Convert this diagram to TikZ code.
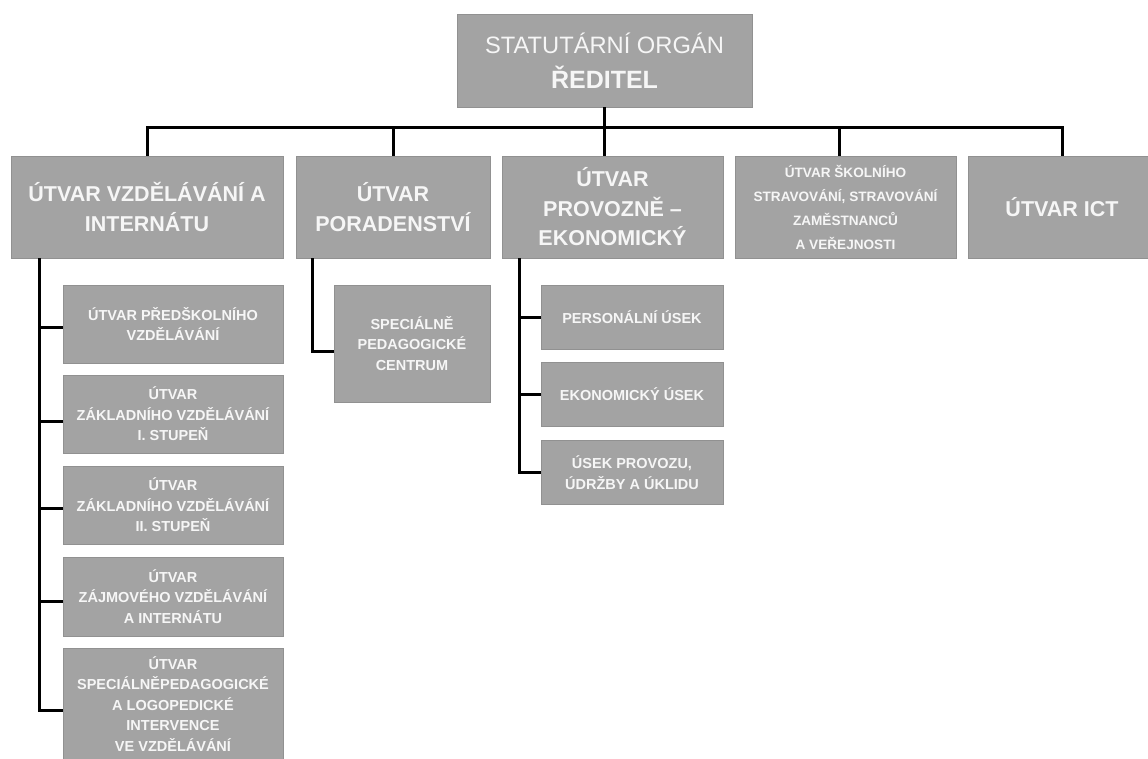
\documentclass[tikz,border=0pt]{standalone}
\usepackage{fontspec}
\setmainfont{Liberation Sans}
\definecolor{boxfill}{RGB}{163,163,163}
\definecolor{boxline}{RGB}{145,145,145}
\definecolor{boxtext}{RGB}{246,246,246}
\begin{document}
\begin{tikzpicture}[x=1pt,y=-1pt,
  box/.style={draw=boxline, fill=boxfill, text=boxtext, inner sep=0pt, align=center, line width=0.8pt},
  sz/.style 2 args={minimum width=#1, minimum height=#2},
  lvone/.style={box, font=\bfseries\fontsize{21.5}{29.5}\selectfont},
  lvsmall/.style={box, font=\bfseries\fontsize{13.6}{24}\selectfont},
  lvtwo/.style={box, font=\bfseries\fontsize{14.5}{20.5}\selectfont},
  conn/.style={line width=3pt, draw=black}]
\useasboundingbox (0,0) rectangle (1148,758);
\fill[white] (0,0) rectangle (1148,758);

% top
\node[box, sz={295pt}{93pt}, font=\fontsize{23.7}{35}\selectfont] (top) at (604.5,60.5)
  {STATUTÁRNÍ ORGÁN\\{\bfseries\fontsize{25}{35}\selectfont ŘEDITEL}};

% level 1
\node[lvone, sz={272pt}{102pt}] (b1) at (147,207) {ÚTVAR VZDĚLÁVÁNÍ A\\INTERNÁTU};
\node[lvone, sz={194pt}{102pt}] (b2) at (393,207) {ÚTVAR\\PORADENSTVÍ};
\node[lvone, sz={221pt}{102pt}] (b3) at (612.5,207) {ÚTVAR\\PROVOZNĚ –\\EKONOMICKÝ};
\node[lvsmall, sz={221pt}{102pt}] (b4) at (845.5,207) {ÚTVAR ŠKOLNÍHO\\STRAVOVÁNÍ, STRAVOVÁNÍ\\ZAMĚSTNANCŮ\\A VEŘEJNOSTI};
\node[lvone, sz={188pt}{102pt}] (b5) at (1062,207) {ÚTVAR ICT};

% level 2 under b1
\node[lvtwo, sz={220pt}{78pt}] (s11) at (173,324) {ÚTVAR PŘEDŠKOLNÍHO\\VZDĚLÁVÁNÍ};
\node[lvtwo, sz={220pt}{78pt}] (s12) at (173,414) {ÚTVAR\\ZÁKLADNÍHO VZDĚLÁVÁNÍ\\I. STUPEŇ};
\node[lvtwo, sz={220pt}{78pt}] (s13) at (173,505) {ÚTVAR\\ZÁKLADNÍHO VZDĚLÁVÁNÍ\\II. STUPEŇ};
\node[lvtwo, sz={220pt}{79pt}] (s14) at (173,596.5) {ÚTVAR\\ZÁJMOVÉHO VZDĚLÁVÁNÍ\\A INTERNÁTU};
\node[lvtwo, sz={220pt}{112pt}] (s15) at (173,704) {ÚTVAR\\SPECIÁLNĚPEDAGOGICKÉ\\A LOGOPEDICKÉ\\INTERVENCE\\VE VZDĚLÁVÁNÍ};

% level 2 under b2
\node[lvtwo, sz={156pt}{117pt}] (s21) at (412,343.5) {SPECIÁLNĚ\\PEDAGOGICKÉ\\CENTRUM};

% level 2 under b3
\node[lvtwo, sz={182pt}{64pt}] (s31) at (632,317) {PERSONÁLNÍ ÚSEK};
\node[lvtwo, sz={182pt}{64pt}] (s32) at (632,394.5) {EKONOMICKÝ ÚSEK};
\node[lvtwo, sz={182pt}{64pt}] (s33) at (632,472.5) {ÚSEK PROVOZU,\\ÚDRŽBY A ÚKLIDU};

% bus
\coordinate (busy) at (0,127.5);
\coordinate (b4top) at ([xshift=-6.5pt]b4.north);
\draw[conn] (b1.north) |- (busy -| b5.north) -- (b5.north);
\draw[conn] (top.south) -- (top.south |- b3.north);
\draw[conn] (b2.north) -- (b2.north |- busy);
\draw[conn] (b4top) -- (b4top |- busy);

% spine b1
\coordinate (sp1) at ([xshift=29pt]b1.south west);
\draw[conn] (sp1) |- ([yshift=-6pt]s15.west);
\draw[conn] ([yshift=-3pt]s11.west) -| (sp1);
\draw[conn] ([yshift=-7pt]s12.west) -| (sp1);
\draw[conn] ([yshift=-3pt]s13.west) -| (sp1);
\draw[conn] ([yshift=-5pt]s14.west) -| (sp1);

% spine b2
\coordinate (sp2) at ([xshift=17pt]b2.south west);
\draw[conn] (sp2) |- ([yshift=-8pt]s21.west);

% spine b3
\coordinate (sp3) at ([xshift=18pt]b3.south west);
\draw[conn] (sp3) |- (s33.west);
\draw[conn] (s31.west) -| (sp3);
\draw[conn] (s32.west) -| (sp3);
\end{tikzpicture}
\end{document}
